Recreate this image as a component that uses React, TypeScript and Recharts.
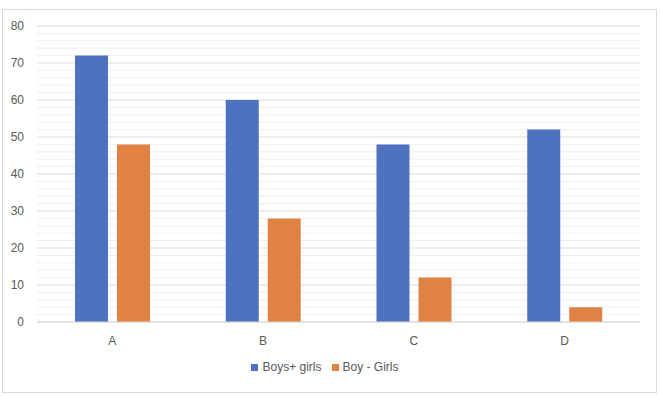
import React from "react";
import { BarChart, Bar, XAxis, YAxis, CartesianGrid, Legend } from "recharts";

const categories = ["A", "B", "C", "D"];
const boysPlusGirls = [72, 60, 48, 52];
const boyMinusGirls = [48, 28, 12, 4];
const majorStep = 10;
const gridTicks = [0, 2, 4, 6, 8, 10, 12, 14, 16, 18, 20, 22, 24, 26, 28, 30, 32, 34, 36, 38, 40, 42, 44, 46, 48, 50, 52, 54, 56, 58, 60, 62, 64, 66, 68, 70, 72, 74, 76, 78, 80];

const data = categories.map((c, i) => ({
  name: c,
  sum: boysPlusGirls[i],
  diff: boyMinusGirls[i],
}));

const font = "Liberation Sans, Arial, sans-serif";

const GridLine = (props: any) => {
  const { x1, x2, y1, y2, index } = props;
  const value = gridTicks[index];
  const major = value % majorStep === 0;
  return (
    <line
      x1={x1}
      x2={x2}
      y1={y1}
      y2={y2}
      stroke={major ? "#d9d9d9" : "#efefef"}
      strokeWidth={1}
      fill="none"
    />
  );
};

export default function App() {
  return (
    <div style={{ position: "absolute", left: 0, top: 0, width: 660, height: 396, background: "#fff", fontFamily: font }}>
      <div
        style={{
          position: "absolute",
          left: 2,
          top: 9,
          width: 653,
          height: 382,
          border: "1px solid #d9d9d9",
        }}
      />
      <BarChart
        width={660}
        height={396}
        data={data}
        margin={{ top: 26, right: 20, bottom: 44, left: 0 }}
        barSize={33}
        barGap={9}
      >
        <CartesianGrid vertical={false} horizontal={GridLine} />
        <XAxis
          dataKey="name"
          axisLine={{ stroke: "#d9d9d9" }}
          tickLine={false}
          tickMargin={8}
          height={30}
          tick={{ fill: "#595959", fontSize: 12, fontFamily: font }}
        />
        <YAxis
          width={37}
          domain={[0, 80]}
          ticks={gridTicks}
          interval={0}
          axisLine={false}
          tickLine={false}
          tickMargin={7}
          tickFormatter={(v: number) => (v % majorStep === 0 ? String(v) : "")}
          tick={{ fill: "#595959", fontSize: 12, fontFamily: font }}
        />
        <Legend
          verticalAlign="middle"
          align="center"
          layout="horizontal"
          iconType="square"
          iconSize={7}
          itemSorter={(item: any) => (item.dataKey === "sum" ? 0 : 1)}
          wrapperStyle={{ top: 360, left: 0, width: 660, fontSize: 12, fontFamily: font }}
          formatter={(value) => <span style={{ color: "#595959" }}>{value}</span>}
        />
        <Bar dataKey="sum" name="Boys+ girls" fill="#4e72be" isAnimationActive={false} />
        <Bar dataKey="diff" name="Boy - Girls" fill="#df8244" isAnimationActive={false} />
      </BarChart>
    </div>
  );
}
